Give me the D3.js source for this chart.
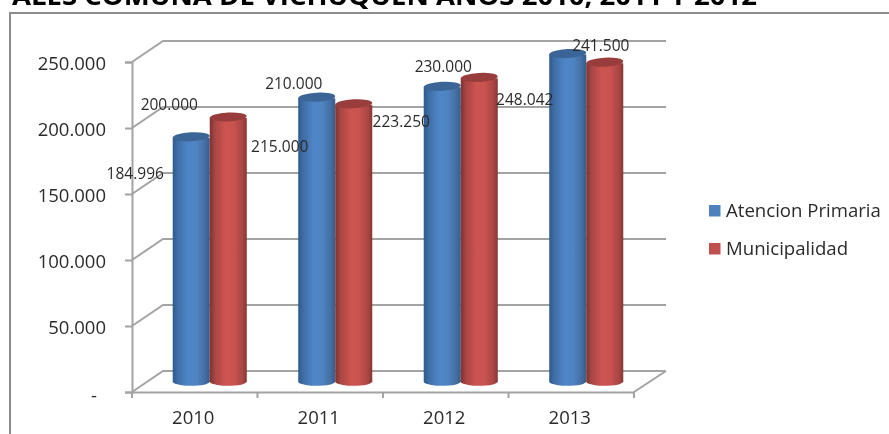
<!DOCTYPE html>
<html><head><meta charset="utf-8">
<script src="https://cdnjs.cloudflare.com/ajax/libs/d3/7.8.5/d3.min.js"></script>
<style>html,body{margin:0;padding:0;background:#fff;overflow:hidden}svg{display:block}</style>
</head><body><div id="chart"></div>
<script>
const categories = ["2010","2011","2012","2013"];
const seriesNames = ["Atencion Primaria","Municipalidad"];
const atencionPrimaria = [184996,215000,223250,248042];
const municipalidad = [200000,210000,230000,241500];
const yTicks = [0,50000,100000,150000,200000,250000];
const titleText = "ALES COMUNA DE VICHUQUEN AÑOS 2010, 2011 Y 2012";

const W=889,H=434;
const fmt = v => v===0 ? "-" : d3.format(",.0f")(v).replace(/,/g,".");
const svg=d3.select("#chart").append("svg").attr("width",W).attr("height",H)
  .style("font-family","'Open Sans','Noto Sans',sans-serif");
const defs=svg.append("defs");
const mkGrad=(id,stops)=>{const g=defs.append("linearGradient").attr("id",id);
  stops.forEach(([o,c])=>g.append("stop").attr("offset",o).attr("stop-color",c));};
mkGrad("gBlue",[[0,"#2f5a8c"],[.14,"#3f6ea6"],[.42,"#5086c8"],[.64,"#5084c2"],[.88,"#436da1"],[1,"#335a88"]]);
mkGrad("gRed",[[0,"#7c3230"],[.14,"#a84644"],[.42,"#cd5451"],[.64,"#c95350"],[.88,"#a84644"],[1,"#823634"]]);
defs.append("filter").attr("id","soft").append("feGaussianBlur").attr("stdDeviation",.45);

const grid="#a3a3a3", ink="#2b2b2b";
const y=d3.scaleLinear().domain([0,250000]).range([392,62]);
const x0=d3.scaleBand().domain(categories).range([132,634]);
const depthX=31, depthY=21;
const xBars=d3.scaleBand().domain(categories).range([132+15,634+15]).paddingInner(.41).paddingOuter(.205);
const x1=d3.scaleBand().domain(seriesNames).range([0,xBars.bandwidth()]);
const baseY=y(0)-10;
const rows=categories.map((c,i)=>({c,v:[atencionPrimaria[i],municipalidad[i]]}));

const root=svg.append("g").attr("filter","url(#soft)");

// frame
root.append("path").attr("d",`M10,${H}V13H${W}`).attr("fill","none").attr("stroke","#8c8c8c").attr("stroke-width",2);

// title (clipped by the top of the picture, as in the reference)
root.append("text").text(titleText).attr("x",12).attr("y",5).attr("font-size",25)
  .attr("textLength",745).attr("lengthAdjust","spacingAndGlyphs")
  .attr("font-weight",700).attr("fill","#000").attr("font-family","'Open Sans',sans-serif");

// walls
const wall=root.append("g").attr("fill","none").attr("stroke",grid).attr("stroke-width",2);
yTicks.forEach(t=>{
  wall.append("path").attr("d",`M${x0.range()[0]},${y(t)}l${depthX},${-depthY}H${x0.range()[1]+depthX+1}`);
});
wall.append("path").attr("d",`M${x0.range()[1]},${y(0)}l${depthX+1},${-depthY}`);

// axes
const ax=root.append("g").attr("transform",`translate(${x0.range()[0]},0)`)
  .call(d3.axisLeft(y).tickValues(yTicks).tickFormat(fmt).tickSize(7).tickPadding(19));
const bx=root.append("g").attr("transform",`translate(0,${y(0)})`)
  .call(d3.axisBottom(x0).tickSize(0).tickPadding(19));
bx.selectAll(".tick").attr("transform",function(d){return `translate(${x0(d)+x0.bandwidth()/2-1.5},0)`});
bx.selectAll(".tmk").data(d3.range(categories.length+1)).enter().append("line").attr("class","tmk")
  .attr("x1",i=>x0.range()[0]+i*x0.step()).attr("x2",i=>x0.range()[0]+i*x0.step()).attr("y2",6);
[ax,bx].forEach(a=>{
  a.selectAll("path.domain,line").attr("stroke",grid).attr("stroke-width",2);
  a.selectAll("text").attr("font-size",18.5).attr("fill",ink).attr("font-family","'Open Sans',sans-serif");
});
bx.selectAll("text").attr("dy","0.71em");
ax.selectAll(".tick text").attr("y",2);
ax.selectAll(".tick").filter(d=>d===0).select("text").attr("x",-35).attr("y",4);

// cylinders
const colours={[seriesNames[0]]:["url(#gBlue)","#3b6596"],[seriesNames[1]]:["url(#gRed)","#983c3a"]};
const ry=4.5;
rows.forEach(r=>{
  seriesNames.forEach((s,k)=>{
    const l=xBars(r.c)+x1(s), w=x1.bandwidth(), rx=w/2, top=baseY-(y(0)-y(r.v[k]));
    const g=root.append("g");
    g.append("path").attr("fill",colours[s][0])
     .attr("d",`M${l},${top}V${baseY}A${rx},${ry} 0 0 0 ${l+w},${baseY-1.5}V${top}Z`);
    g.append("ellipse").attr("cx",l+rx).attr("cy",top-1).attr("rx",rx).attr("ry",ry).attr("fill",colours[s][1])
      .attr("transform",`rotate(-3 ${l+rx} ${top})`);
  });
});

// value labels: hand-placed offsets from each bar top, as in the picture
const labelOffsets=[[[-56,41],[-37,54],[-41,40],[-43,50]],[[-59,-8],[-60,-16],[-36,-6],[-4,-12]]];
rows.forEach((r,i)=>seriesNames.forEach((s,k)=>{
  const top=baseY-(y(0)-y(r.v[k]));
  root.append("text").text(fmt(r.v[k]))
    .attr("x",xBars(r.c)+x1(s)+x1.bandwidth()/2+labelOffsets[k][i][0])
    .attr("y",top+labelOffsets[k][i][1]).attr("text-anchor","middle")
    .attr("font-size",15.5).attr("fill",ink);
}));

// legend
const lg=root.append("g");
seriesNames.forEach((s,k)=>{
  lg.append("rect").attr("x",709).attr("y",205+k*38).attr("width",11.5).attr("height",11.5)
    .attr("fill",["#4f81bd","#c0504d"][k]);
  lg.append("text").text(s).attr("x",726).attr("y",217+k*38).attr("font-size",18.6).attr("fill",ink);
});
</script></body></html>
